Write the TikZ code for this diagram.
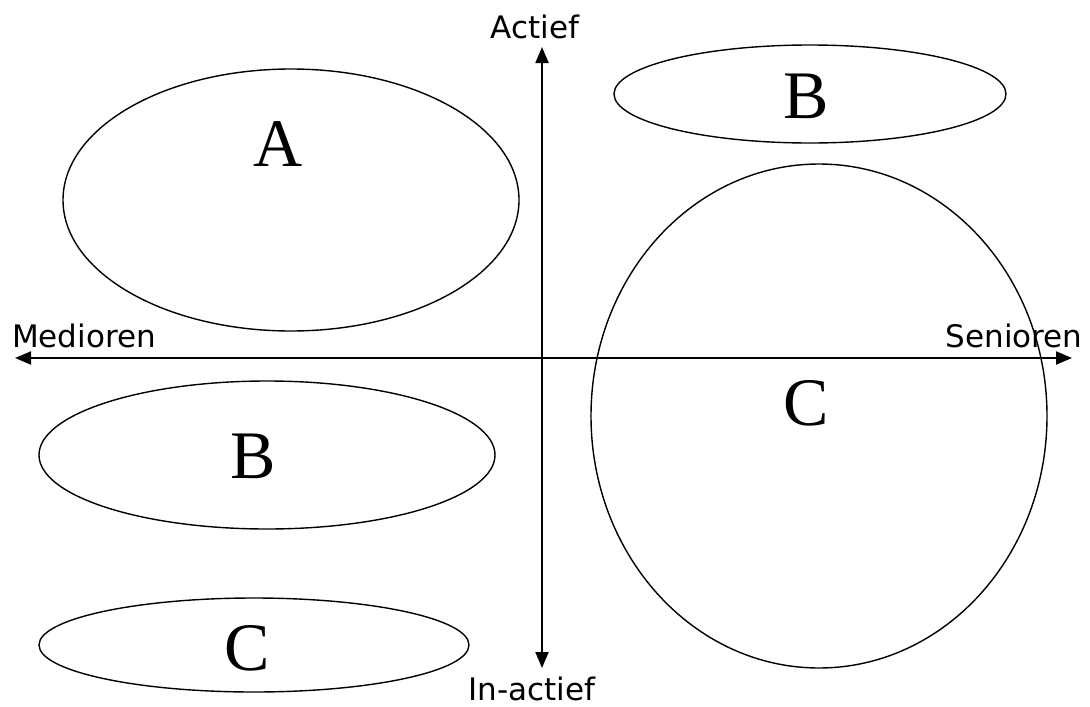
\documentclass[tikz,border=0pt]{standalone}
\usepackage{fontspec}
\setmainfont{Liberation Serif}
\newfontfamily\axisfont{DejaVu Sans}
\usetikzlibrary{arrows.meta}
\begin{document}
\begin{tikzpicture}[x=1pt,y=-1pt,
  axis/.style={line width=2pt,{Triangle[length=16pt,width=13pt]}-{Triangle[length=16pt,width=13pt]}},
  blob/.style={line width=1.4pt},
  letter/.style={font=\fontsize{68}{68}\selectfont,inner sep=0pt},
  axlabel/.style={font=\axisfont\fontsize{31}{31}\selectfont,inner sep=0pt,anchor=base}]
\useasboundingbox (0,0) rectangle (1090,707);
% ellipses
\draw[blob] (291,200) ellipse [x radius=228, y radius=131];
\draw[blob] (810,94) ellipse [x radius=196, y radius=49];
\draw[blob] (819,416) ellipse [x radius=228, y radius=252];
\draw[blob] (267,455) ellipse [x radius=228, y radius=74];
\draw[blob] (254,645) ellipse [x radius=215, y radius=47];
% axes
\coordinate (top) at (542,47);
\coordinate (bot) at (542,668);
\coordinate (left) at (15,358);
\coordinate (right) at (1072,358);
\draw[axis] (bot) -- (top);
\draw[axis] (left) -- (right);
% letters
\node[letter] (la) at (278,144) {A};
\node[letter] (lb1) at (806,96) {B};
\node[letter] (lc1) at (806,403) {C};
\node[letter] (lb2) at (253,456) {B};
\node[letter] (lc2) at (247,648) {C};
% axis labels
\node[axlabel] (actief) at (535,38) {Actief};
\node[axlabel] (medioren) at (84,347) {Medioren};
\node[axlabel] (senioren) at (1014,347) {Senioren};
\node[axlabel] (inactief) at (532,700) {In-actief};
\end{tikzpicture}
\end{document}
